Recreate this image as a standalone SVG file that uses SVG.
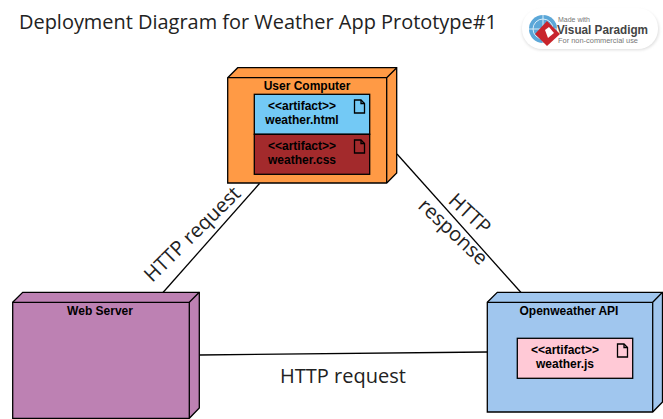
<svg xmlns="http://www.w3.org/2000/svg" width="663" height="419" viewBox="0 0 663 419">
<defs>
<filter id="soft" x="-10%" y="-20%" width="120%" height="140%"><feGaussianBlur stdDeviation="1.5"/></filter>
<symbol id="doc" overflow="visible"><path class="ln" d="M0 0H6.500L10 3.500V13H0Z" fill="none"/><path class="ln" d="M6.500 0V3.500H10" fill="none"/></symbol>
</defs>
<style>
.ln{stroke:#000;stroke-width:1.300}
.n{font:bold 12px "Liberation Sans",Arial,sans-serif;text-anchor:middle;fill:#000}
.a{font:bold 12px "Liberation Sans",Arial,sans-serif;text-anchor:middle;fill:#000}
.c{stroke:#000;stroke-width:1.300;fill:none}
.l{font:20px "Open Sans",sans-serif;fill:#222;text-anchor:middle}
.t{font:20px "Open Sans",sans-serif;fill:#222}
</style>
<rect width="663" height="419" fill="#fff"/>
<text class="t" x="19" y="29" textLength="478" lengthAdjust="spacingAndGlyphs">Deployment Diagram for Weather App Prototype#1</text>
<g id="logo">
<rect x="522" y="10" width="137" height="40" rx="20" fill="#ddd" filter="url(#soft)"/>
<rect x="522" y="8" width="136" height="41" rx="20" fill="#fff"/>
<circle cx="543" cy="29" r="14" fill="#5ba7d8"/>
<circle cx="543" cy="29" r="10" fill="none" stroke="#d6ecf8" stroke-width="1"/>
<path d="M529 29H557M543 15V43" stroke="#d6ecf8" stroke-width="1" fill="none"/>
<path d="M547 21L560 34L547 46L535 34Z" fill="#c8252c"/>
<path d="M545 30L549 27L554 33L548 38Z" fill="#fff"/>
<text x="558" y="22" font-family="Liberation Sans,sans-serif" font-size="7" fill="#777">Made with</text>
<text x="557" y="34" font-family="Liberation Sans,sans-serif" font-size="12.500" font-weight="bold" fill="#444" textLength="91" lengthAdjust="spacingAndGlyphs">Visual Paradigm</text>
<text x="558" y="43" font-family="Liberation Sans,sans-serif" font-size="6.500" fill="#777" textLength="80" lengthAdjust="spacingAndGlyphs">For non-commercial use</text>
</g>
<g id="connectors">
<path class="c" d="M259.500 183.500L163 292.500"/>
<path class="c" d="M397 154L521 292.500"/>
<path class="c" d="M199.500 355L487.500 352"/>
</g>
<g id="user-computer">
<path class="ln" fill="#ff9a45" d="M227.700 77.700L237.700 67.700H396.700V173L386.700 183H227.700Z"/>
<path class="ln" fill="none" d="M227.700 77.700H386.700V183M386.700 77.700L396.700 67.700"/>
<text class="n" x="307" y="90">User Computer</text>
<g id="artifact-html">
<rect class="ln" x="254.300" y="94.300" width="115.400" height="40" fill="#73c9f5"/>
<use href="#doc" x="354.500" y="100"/>
<text class="a" x="302" y="110">&lt;&lt;artifact&gt;&gt;</text>
<text class="a" x="302" y="124">weather.html</text>
</g>
<g id="artifact-css">
<rect class="ln" x="254.300" y="134.300" width="115.400" height="40" fill="#a32a2c"/>
<use href="#doc" x="354.500" y="140"/>
<text class="a" x="302" y="150">&lt;&lt;artifact&gt;&gt;</text>
<text class="a" x="302" y="164">weather.css</text>
</g>
</g>
<g id="web-server">
<path class="ln" fill="#bd81b3" d="M12.700 302.300L22.700 292.300H199.300V408L189.300 418.300H12.700Z"/>
<path class="ln" fill="none" d="M12.700 302.300H189.300V418.300M189.300 302.300L199.300 292.300"/>
<text class="n" x="100" y="315">Web Server</text>
</g>
<g id="openweather-api">
<path class="ln" fill="#a0c6ee" d="M487.300 302.300L497.300 292.300H662.500V402L652.700 412H487.300Z"/>
<path class="ln" fill="none" d="M487.300 302.300H652.700V412M652.700 302.300L662.500 292.300"/>
<text class="n" x="569" y="315">Openweather API</text>
<g id="artifact-js">
<rect class="ln" x="517.300" y="338.300" width="115.400" height="40" fill="#ffc9d6"/>
<use href="#doc" x="617.500" y="344"/>
<text class="a" x="565" y="354">&lt;&lt;artifact&gt;&gt;</text>
<text class="a" x="565" y="368">weather.js</text>
</g>
</g>
<g id="labels">
<text class="l" transform="translate(197 239) rotate(-44.500)">HTTP request</text>
<text class="l" transform="translate(457 227.500) rotate(43)"><tspan x="0" y="-12">HTTP</tspan><tspan x="0" y="12.500">response</tspan></text>
<text class="l" x="343" y="383">HTTP request</text>
</g>
</svg>
